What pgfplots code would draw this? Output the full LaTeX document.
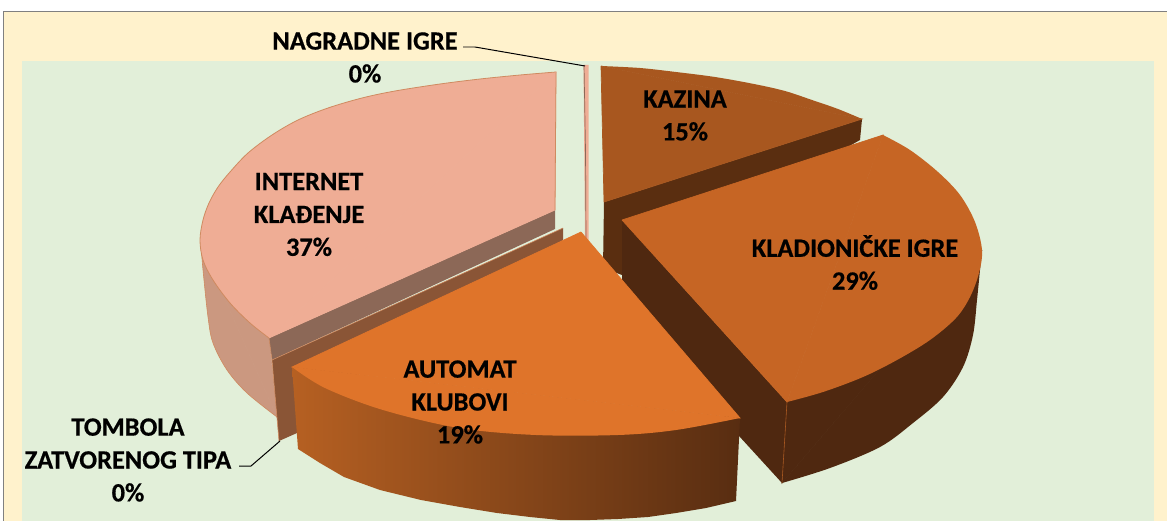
\documentclass[border=0pt]{standalone}
\usepackage{fontspec}
\setmainfont{Carlito}
\newfontfamily\labfont{Carlito}[UprightFont=*-Bold, FakeBold=0.5]
\usepackage{pgfplots}
\pgfplotsset{compat=1.18}

\definecolor{cream}{HTML}{FFF2CC}
\definecolor{plotbg}{HTML}{E2EFD9}
\definecolor{netTop}{HTML}{EFAD95}
\definecolor{netSide}{HTML}{CB9880}
\definecolor{netCut}{HTML}{8C6857}
\definecolor{tomb}{HTML}{8A5536}
\definecolor{autoTop}{HTML}{DF742A}
\definecolor{autoL}{HTML}{B66022}
\definecolor{autoR}{HTML}{582D11}
\definecolor{kladTop}{HTML}{C66524}
\definecolor{kladSide}{HTML}{4F2810}
\definecolor{kazTop}{HTML}{A8571F}
\definecolor{kazCut}{HTML}{5A2E10}
\definecolor{edge}{HTML}{CF8A60}

% poly = straight faces, arc = open smooth rim (fill closes it with a chord),
% tri = the wedge inside the chord, stroked in its own colour to hide the seam
\pgfplotsset{
  poly/.style={no markers, forget plot, draw=none, fill=#1},
  arc/.style={no markers, forget plot, draw=none, fill=#1, smooth, tension=0.55},
  tri/.style={no markers, forget plot, draw=#1, fill=#1, line width=0.7pt},
  lead/.style={no markers, forget plot, black, line width=1pt},
}

\begin{document}
\begin{tikzpicture}
\begin{axis}[
    width=1167bp, height=521bp, scale only axis,
    xmin=0, xmax=1167, ymin=0, ymax=521, y dir=reverse,
    hide axis,
]
% background
\addplot[poly=white] coordinates {(0,0)(1167,0)(1167,521)(0,521)};
\addplot[poly=cream, draw=gray, line width=0.8pt] coordinates {(3.5,11.5)(1170,11.5)(1170,525)(3.5,525)(3.5,11.5)};
\addplot[poly=plotbg] coordinates {(22,61)(1154,61)(1154,525)(22,525)};

% nagradne igre
\addplot[poly=netTop] coordinates {(583.5,65)(588.5,65)(588.5,240)(585,240)};
\addplot[no markers, forget plot, netCut, line width=0.7pt] coordinates {(584,65)(585.5,150)(586,240)};

% kazina
\addplot[poly=kazCut] coordinates {(862,119)(604,202)(603,268)(622,275)(860,140)};
\addplot[arc=kazTop] coordinates {(601,66)(640,68)(676,72)(715,77)(754,84)(785,91)(812,100)(838,109)(862,119)};
\addplot[tri=kazTop] coordinates {(601,66)(862,119)(604,202)(601,66)};

% kladionicke igre
\addplot[arc=kladSide] coordinates {(982,250)(980,270)(977,300)(973,335)(963,367)(943,397)(913,423)(880,447)(830,468)(782,483)};
\addplot[tri=kladSide] coordinates {(982,250)(782,483)(787,402)(982,250)};
\addplot[poly=kladSide] coordinates {(622,220)(787,402)(782,483)(622,308)};
\addplot[no markers, forget plot, kazTop, line width=0.6pt] coordinates {(787,402)(782,483)};
\addplot[arc=kladTop] coordinates {
  (883,135)(910,150)(938,172)(960,195)(975,222)(982,250)(979,273)(970,297)(956,318)
  (930,340)(897,360)(863,377)(823,392)(787,402)};
\addplot[tri=kladTop] coordinates {(622,220)(883,135)(787,402)(622,220)};

% internet kladjenje
\addplot[tri=netSide] coordinates {(201,245)(277,417)(269,338)(201,245)};
\addplot[arc=netSide, draw=edge, line width=0.6pt] coordinates {(201,245)(203,270)(208,317)(213,343)(227,370)(247,393)(277,417)};
\addplot[poly=netCut] coordinates {(555,210)(269,338)(272,360)(555,229)};
\addplot[arc=netTop, draw=edge, line width=0.8pt] coordinates {
  (269,338)(250,323)(230,303)(213,280)(203,260)(200,240)(203,220)(209,203)(218,187)
  (230,172)(248,153)(272,135)(298,120)(328,108)(362,98)(395,91)(440,84)(480,79)(520,75)(556,72)};
\addplot[tri=netTop] coordinates {(269,338)(556,72)(555,210)(269,338)};
\addplot[no markers, forget plot, edge, line width=0.8pt] coordinates {(556,72)(555,210)};
\addplot[no markers, forget plot, edge, line width=0.6pt] coordinates {(269,338)(272,360)};

% tombola
\addplot[poly=tomb] coordinates {(563,228)(272,360)(279,441)(297,433)(320,400)(563,240)};
\addplot[no markers, forget plot, edge, line width=0.6pt] coordinates {(563,228)(272,360)(279,441)};

% automat klubovi
\addplot[no markers, forget plot, draw=none, left color=autoL, right color=autoR] coordinates {
  (292,367)(740,418)(736,501)(706,508)(676,513)(648,517)(618,519)(590,520)(560,520)
  (530,517)(497,513)(460,507)(421,500)(380,490)(344,477)(320,463)(298,449)};
\addplot[arc=autoTop] coordinates {(292,367)(325,388)(383,410)(459,428)(536,435)(618,435)(676,430)(740,418)};
\addplot[tri=autoTop] coordinates {(581,232)(292,367)(740,418)(581,232)};

% leader lines
\addplot[lead] coordinates {(463,47)(475,47)(585,66)};
\addplot[lead] coordinates {(239,466)(251,466)(280,441)};

% labels
\tikzset{lab/.style={font=\fontsize{26.5}{33}\selectfont\labfont, align=center, text=black, inner sep=0pt}}
\node[lab] at (axis cs:365,57.5) {NAGRADNE IGRE\\0\%};
\node[lab] at (axis cs:309,214.5) {INTERNET\\KLAĐENJE\\37\%};
\node[lab] at (axis cs:685,115.5) {KAZINA\\15\%};
\node[lab] at (axis cs:855,262.5) {KLADIONIČKE IGRE\\29\%};
\node[lab] at (axis cs:460,402) {AUTOMAT\\KLUBOVI\\19\%};
\node[lab] at (axis cs:128,460) {TOMBOLA\\ZATVORENOG TIPA\\0\%};
\end{axis}
\end{tikzpicture}
\end{document}
